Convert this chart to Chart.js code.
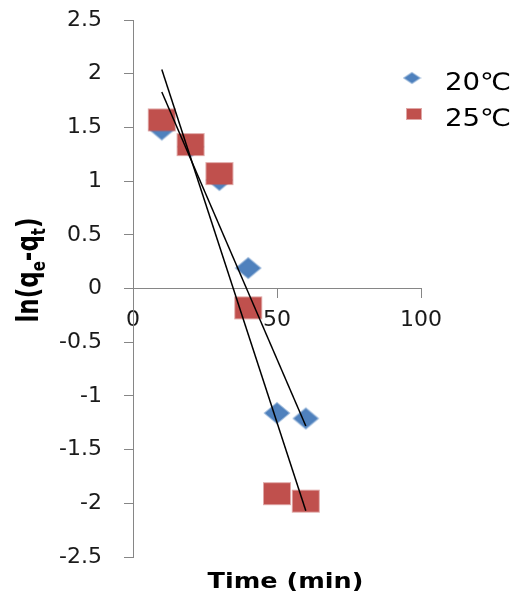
<!DOCTYPE html>
<html>
<head>
<meta charset="utf-8">
<script src="https://cdn.jsdelivr.net/npm/chart.js@4.4.0/dist/chart.umd.min.js"></script>
<style>
  html, body { margin: 0; padding: 0; background: #fff; }
  canvas { display: block; }
</style>
</head>
<body>
<canvas id="kineticsChart" width="517" height="594"></canvas>
<script>
// contact time (min)
var times = [10, 20, 30, 40, 50, 60];
// ln(qe - qt)
var series20 = [1.48, 1.32, 1.01, 0.19, -1.16, -1.21];
var series25 = [1.57, 1.34, 1.07, -0.18, -1.91, -1.98];
// linear fits, end points
var fitTimes = [10, 60];
var fit20 = [1.83, -1.28];
var fit25 = [2.04, -2.07];
var seriesLabels = ['20℃', '25℃'];
var xTicks = [0, 50, 100];
var yTicks = [-2.5, -2, -1.5, -1, -0.5, 0, 0.5, 1, 1.5, 2, 2.5];

var BLUE = '#4F81BD';
var RED = '#C0504D';

function toXY(xs, ys) {
    return xs.map(function (x, i) { return { x: x, y: ys[i] }; });
}

// small canvases used as point markers
function makeMarker(kind, w, h, fill, halo) {
    var c = document.createElement('canvas');
    c.width = w + 4;
    c.height = h + 4;
    var g = c.getContext('2d');
    if (kind === 'rect') {
        g.fillStyle = halo;
        g.fillRect(1, 1, w + 2, h + 2);
        g.fillStyle = fill;
        g.fillRect(2, 2, w, h);
    } else {
        var cx = c.width / 2, cy = c.height / 2;
        g.beginPath();
        g.moveTo(cx, 2);
        g.lineTo(w + 2, cy);
        g.lineTo(cx, h + 2);
        g.lineTo(2, cy);
        g.closePath();
        g.fillStyle = fill;
        g.fill();
        g.strokeStyle = halo;
        g.lineWidth = 2;
        g.stroke();
    }
    return c;
}

var diamondMark = makeMarker('diamond', 24, 20, BLUE, 'rgba(79,129,189,0.55)');
var rectMark = makeMarker('rect', 26, 21, RED, 'rgba(192,80,77,0.5)');
var diamondKey = makeMarker('diamond', 15, 10, BLUE, 'rgba(79,129,189,0.55)');
var rectKey = makeMarker('rect', 14, 10, RED, 'rgba(192,80,77,0.5)');

// axis titles (with subscripts) and legend
var overlay = {
    id: 'overlay',
    afterDraw: function (chart) {
        var c = chart.ctx;

        c.save();
        c.fillStyle = '#000';
        c.font = 'bold 22px "DejaVu Sans"';
        c.textAlign = 'center';
        c.textBaseline = 'alphabetic';
        c.translate(285.5, 588);
        c.scale(1.16, 1);
        c.fillText('Time (min)', 0, 0);
        c.restore();

        var parts = [['ln(q', 23, 0], ['e', 15, 5], ['-q', 23, 0], ['t', 15, 5], [')', 23, 0]];
        c.save();
        c.fillStyle = '#000';
        c.textAlign = 'left';
        c.textBaseline = 'alphabetic';
        var total = 0;
        parts.forEach(function (p) {
            c.font = 'bold ' + p[1] + 'px "DejaVu Sans"';
            total += c.measureText(p[0]).width;
        });
        c.translate(38, 270);
        c.rotate(-Math.PI / 2);
        c.scale(1, 1.3);
        var px = -total / 2;
        parts.forEach(function (p) {
            c.font = 'bold ' + p[1] + 'px "DejaVu Sans"';
            c.fillText(p[0], px, p[2]);
            px += c.measureText(p[0]).width;
        });
        c.restore();

        var keys = [[diamondKey, 412, 78, 90], [rectKey, 414, 114, 126]];
        c.save();
        c.fillStyle = '#000';
        c.font = '24px "DejaVu Sans"';
        c.textAlign = 'left';
        c.textBaseline = 'alphabetic';
        keys.forEach(function (k, i) {
            c.drawImage(k[0], k[1] - k[0].width / 2, k[2] - k[0].height / 2);
            c.save();
            c.translate(445, k[3]);
            c.scale(1.15, 1);
            c.fillText(seriesLabels[i], 0, 0);
            c.restore();
        });
        c.restore();
    }
};

var tickFont = { family: '"DejaVu Sans"', size: 22 };

new Chart(document.getElementById('kineticsChart').getContext('2d'), {
    type: 'scatter',
    data: {
        datasets: [{
            type: 'line',
            label: 'fit 25',
            data: toXY(fitTimes, fit25),
            borderColor: '#000',
            borderWidth: 1.5,
            pointRadius: 0,
            fill: false,
            order: 0
        }, {
            type: 'line',
            label: 'fit 20',
            data: toXY(fitTimes, fit20),
            borderColor: '#000',
            borderWidth: 1.5,
            pointRadius: 0,
            fill: false,
            order: 0
        }, {
            label: seriesLabels[1],
            data: toXY(times, series25),
            pointStyle: rectMark,
            pointRadius: 12,
            order: 1
        }, {
            label: seriesLabels[0],
            data: toXY(times, series20),
            pointStyle: diamondMark,
            pointRadius: 12,
            order: 2
        }]
    },
    options: {
        responsive: false,
        animation: false,
        devicePixelRatio: 1,
        events: [],
        layout: { padding: { top: 20, right: 96, bottom: 37, left: 0 } },
        plugins: {
            legend: { display: false },
            tooltip: { enabled: false }
        },
        scales: {
            x: {
                type: 'linear',
                position: { y: 0 },
                min: 0,
                max: 100,
                afterBuildTicks: function (s) { s.ticks = xTicks.map(function (v) { return { value: v }; }); },
                grid: { drawOnChartArea: false, color: '#868686', tickLength: 9 },
                border: { color: '#868686' },
                ticks: { font: tickFont, color: '#1a1a1a', padding: 10, maxRotation: 0,
                         callback: function (v) { return String(v); } }
            },
            y: {
                type: 'linear',
                position: 'left',
                min: -2.5,
                max: 2.5,
                afterBuildTicks: function (s) { s.ticks = yTicks.map(function (v) { return { value: v }; }); },
                afterFit: function (s) {
                    s.width = 133;
                    s.paddingTop = 0;
                    s.paddingBottom = 0;
                },
                grid: { drawOnChartArea: false, color: '#868686', tickLength: 9 },
                border: { color: '#868686' },
                ticks: { font: tickFont, color: '#1a1a1a', padding: 22,
                         callback: function (v) { return String(v); } }
            }
        }
    },
    plugins: [overlay]
});
</script>
</body>
</html>
